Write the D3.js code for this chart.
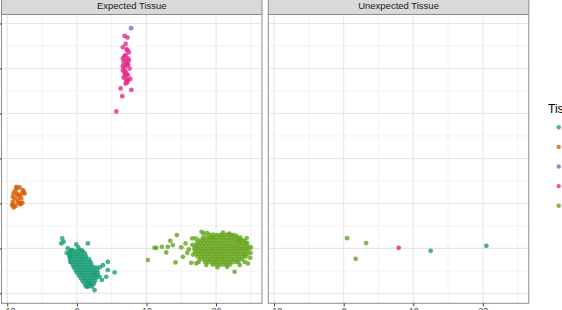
<!DOCTYPE html>
<html><head><meta charset="utf-8">
<script src="https://cdn.jsdelivr.net/npm/d3@7"></script>
<style>html,body{margin:0;padding:0;background:#fff;overflow:hidden}svg{display:block}</style>
</head><body><svg id="c" width="562" height="310"></svg>
<script>
const panels = ["Expected Tissue", "Unexpected Tissue"];
const tissues = ["Blood", "Brain", "Heart", "Liver", "Lung"];
const xTicks = [-10, 0, 10, 20];
const xMinor = [-5, 5, 15, 25];
const yTicks = [-15, -10, -5, 0, 5, 10, 15];
const yMinor = [-12.5, -7.5, -2.5, 2.5, 7.5, 12.5];

// Expected Tissue panel
const expectedBlood = [
  [-2.10,-8.89],[-1.91,-9.27],[-2.24,-9.44],[-0.09,-9.56],[1.58,-9.44],[-1.29,-10.0],[-0.80,-10.19],[0.63,-10.19],
  [-1.05,-10.93],[-0.95,-11.49],[4.45,-11.49],[3.74,-11.86],[5.42,-12.67],[4.45,-12.41],[4.22,-13.16],[3.26,-13.16],
  [1.49,-14.27],[2.54,-14.63],[1.82,-13.89],[-1.45,-10.5],[3.3,-12.1],[3.6,-13.5],[0.2,-9.9],
  [-0.95,-10.3],[-0.5,-10.25],[-0.05,-10.32],[0.4,-10.26],[0.85,-10.3],
  [-1.1,-10.62],[-0.65,-10.57],[-0.2,-10.63],[0.25,-10.58],[0.7,-10.61],[1.15,-10.56],
  [-1.0,-10.9],[-0.55,-10.86],[-0.1,-10.92],[0.35,-10.87],[0.8,-10.91],[1.3,-10.88],
  [-0.95,-11.2],[-0.5,-11.17],[-0.05,-11.22],[0.4,-11.18],[0.85,-11.21],[1.3,-11.17],[1.75,-11.22],
  [-0.8,-11.5],[-0.35,-11.47],[0.1,-11.52],[0.55,-11.48],[1.0,-11.51],[1.45,-11.47],[1.95,-11.52],
  [-0.6,-11.8],[-0.15,-11.78],[0.3,-11.83],[0.75,-11.79],[1.2,-11.82],[1.65,-11.78],[2.1,-11.83],
  [-0.45,-12.1],[0.0,-12.08],[0.45,-12.12],[0.9,-12.09],[1.35,-12.11],[1.8,-12.08],[2.25,-12.12],[2.7,-12.1],
  [-0.2,-12.4],[0.25,-12.38],[0.7,-12.42],[1.15,-12.39],[1.6,-12.41],[2.05,-12.38],[2.45,-12.42],[2.9,-12.4],
  [0.0,-12.7],[0.45,-12.68],[0.9,-12.73],[1.35,-12.69],[1.8,-12.72],[2.25,-12.68],[2.6,-12.72],[3.0,-12.7],
  [0.3,-13.0],[0.75,-12.98],[1.2,-13.02],[1.65,-12.99],[2.1,-13.01],[2.55,-12.98],[2.95,-13.02],
  [0.55,-13.3],[1.0,-13.28],[1.45,-13.32],[1.9,-13.29],[2.35,-13.31],[2.75,-13.28],
  [0.8,-13.6],[1.25,-13.58],[1.7,-13.62],[2.15,-13.59],[2.6,-13.61],
  [1.1,-13.9],[1.55,-13.88],[2.0,-13.92],[2.45,-13.89],
  [1.3,-14.2],[1.8,-14.18],[2.2,-14.22]
];
const expectedBrain = [
  [-8.71,-3.16],[-8.23,-3.22],[-7.76,-3.52],[-7.51,-3.89],[-9.09,-3.89],[-8.48,-4.08],[-8.95,-4.44],[-7.99,-4.44],
  [-9.20,-4.82],[-8.48,-4.63],[-9.28,-5.19],[-8.81,-5.30],[-7.84,-4.93],[-8.13,-5.08],[-8.62,-3.33],[-7.66,-3.71],
  [-9.20,-4.27],[-9.20,-5.19],[-8.08,-5.0],[-9.09,-5.44],[-8.6,-3.9],[-8.2,-4.2],[-8.5,-4.9],[-8.9,-3.6],[-7.9,-3.9]
];
const expectedHeart = [[7.79,14.48]];
const expectedLiver = [
  [6.85,13.62],[7.28,13.44],[7.0,12.73],[6.61,12.37],[7.24,12.03],[7.47,11.78],[7.0,11.48],[7.33,11.11],
  [6.71,10.73],[7.10,10.56],[7.47,10.92],[6.61,10.26],[7.57,10.0],[6.90,9.70],[7.10,9.51],[6.71,9.0],
  [7.67,8.84],[7.33,8.70],[7.24,8.44],[6.28,7.78],[7.82,7.62],[6.52,6.92],[5.66,5.22],
  [7.18,12.11],[6.85,11.37],[6.61,11.11],[7.10,10.92],[7.18,10.37],[6.85,10.18],[6.61,9.81],[7.33,9.26],
  [6.85,9.44],[7.10,8.70],[7.0,8.33],[7.35,10.48],[7.0,9.14]
];
const expectedLung = [
  [10.20,-11.30],[11.16,-9.93],[11.41,-9.93],[12.21,-9.82],[12.84,-10.44],[13.07,-9.82],[13.42,-9.16],[13.79,-9.63],
  [14.18,-11.56],[14.37,-8.52],[15.0,-9.89],[15.23,-10.93],[15.62,-9.44],[15.86,-10.49],[16.09,-10.11],[16.58,-8.89],
  [16.44,-11.6],[17.16,-11.67],[17.92,-8.16],[18.2,-8.33],[19.54,-8.78],[22.66,-12.6],[23.38,-9.16],[24.43,-9.38],
  [24.91,-11.04],[24.57,-11.67],
  [18.7,-8.3],[21.0,-8.25],[21.9,-8.35],[22.9,-8.6],[24.4,-8.85],[25.0,-9.9],[24.95,-10.5],[24.1,-11.5],[23.4,-11.85],
  [21.6,-12.05],[20.2,-12.1],[18.6,-11.85],[17.5,-11.5],[16.7,-10.7],[16.6,-9.6],[17.1,-8.9],
  [19.1,-8.5],[19.6,-8.48],[20.1,-8.52],[20.6,-8.49],[21.1,-8.51],[21.6,-8.48],[22.1,-8.52],[22.5,-8.5],
  [18.15,-8.8],[18.65,-8.78],[19.15,-8.82],[19.65,-8.79],[20.15,-8.81],[20.65,-8.78],[21.15,-8.82],[21.65,-8.79],[22.15,-8.81],[22.65,-8.78],[23.15,-8.82],[23.5,-8.8],
  [17.6,-9.1],[18.1,-9.08],[18.6,-9.12],[19.1,-9.09],[19.6,-9.11],[20.1,-9.08],[20.6,-9.12],[21.1,-9.09],[21.6,-9.11],[22.1,-9.08],[22.6,-9.12],[23.1,-9.09],[23.6,-9.11],[24.0,-9.1],
  [17.25,-9.4],[17.75,-9.38],[18.25,-9.42],[18.75,-9.39],[19.25,-9.41],[19.75,-9.38],[20.25,-9.42],[20.75,-9.39],[21.25,-9.41],[21.75,-9.38],[22.25,-9.42],[22.75,-9.39],[23.25,-9.41],[23.75,-9.38],[24.25,-9.42],
  [17.0,-9.7],[17.5,-9.68],[18.0,-9.72],[18.5,-9.69],[19.0,-9.71],[19.5,-9.68],[20.0,-9.72],[20.5,-9.69],[21.0,-9.71],[21.5,-9.68],[22.0,-9.72],[22.5,-9.69],[23.0,-9.71],[23.5,-9.68],[24.0,-9.72],[24.5,-9.7],
  [16.9,-10.0],[17.35,-9.98],[17.85,-10.02],[18.35,-9.99],[18.85,-10.01],[19.35,-9.98],[19.85,-10.02],[20.35,-9.99],[20.85,-10.01],[21.35,-9.98],[21.85,-10.02],[22.35,-9.99],[22.85,-10.01],[23.35,-9.98],[23.85,-10.02],[24.35,-9.99],[24.7,-10.0],
  [16.95,-10.3],[17.45,-10.28],[17.95,-10.32],[18.45,-10.29],[18.95,-10.31],[19.45,-10.28],[19.95,-10.32],[20.45,-10.29],[20.95,-10.31],[21.45,-10.28],[21.95,-10.32],[22.45,-10.29],[22.95,-10.31],[23.45,-10.28],[23.95,-10.32],[24.45,-10.3],
  [17.1,-10.6],[17.6,-10.58],[18.1,-10.62],[18.6,-10.59],[19.1,-10.61],[19.6,-10.58],[20.1,-10.62],[20.6,-10.59],[21.1,-10.61],[21.6,-10.58],[22.1,-10.62],[22.6,-10.59],[23.1,-10.61],[23.6,-10.58],[24.1,-10.62],[24.5,-10.6],
  [17.35,-10.9],[17.85,-10.88],[18.35,-10.92],[18.85,-10.89],[19.35,-10.91],[19.85,-10.88],[20.35,-10.92],[20.85,-10.89],[21.35,-10.91],[21.85,-10.88],[22.35,-10.92],[22.85,-10.89],[23.35,-10.91],[23.85,-10.88],[24.25,-10.9],
  [17.7,-11.2],[18.2,-11.18],[18.7,-11.22],[19.2,-11.19],[19.7,-11.21],[20.2,-11.18],[20.7,-11.22],[21.2,-11.19],[21.7,-11.21],[22.2,-11.18],[22.7,-11.22],[23.2,-11.19],[23.7,-11.2],
  [18.4,-11.5],[18.9,-11.48],[19.4,-11.52],[19.9,-11.49],[20.4,-11.51],[20.9,-11.48],[21.4,-11.52],[21.9,-11.49],[22.4,-11.51],[22.9,-11.48],[23.2,-11.5],
  [19.5,-11.8],[20.0,-11.78],[20.5,-11.82],[21.0,-11.79],[21.5,-11.81],[22.0,-11.8]
];

// Unexpected Tissue panel
const unexpectedBlood = [[12.50,-10.27],[20.50,-9.71]];
const unexpectedBrain = [];
const unexpectedHeart = [];
const unexpectedLiver = [[7.90,-9.93]];
const unexpectedLung = [[0.49,-8.86],[3.22,-9.41],[1.72,-11.16]];

const tissueColors = ["#1B9E77", "#D95F02", "#7570B3", "#E7298A", "#66A61E"];

const panelData = [
  [expectedBlood, expectedBrain, expectedHeart, expectedLiver, expectedLung],
  [unexpectedBlood, unexpectedBrain, unexpectedHeart, unexpectedLiver, unexpectedLung]
];
const points = [];
panelData.forEach((groups, p) => groups.forEach((arr, t) => arr.forEach(d => points.push({panel: p, tissue: tissues[t], x: d[0], y: d[1]}))));

const color = d3.scaleOrdinal().domain(tissues).range(tissueColors);

const svg = d3.select("#c");
const panelW = 260.5, panelTop = 14.5, panelBottom = 303.3;
const panelLeft = [1.5, 268.3];
const x = d3.scaleLinear().domain([-10.83, 26.6]).range([0, panelW]);
const y = d3.scaleLinear().domain([-16.1, 16.0]).range([panelBottom, panelTop]);
const font = "'Liberation Sans', Arial, sans-serif";

panels.forEach((name, p) => {
  const g = svg.append("g").attr("transform", `translate(${panelLeft[p]},0)`);
  g.append("rect").attr("x", 0).attr("y", panelTop).attr("width", panelW).attr("height", panelBottom - panelTop).attr("fill", "#fff");
  g.selectAll(".vmin").data(xMinor).join("line").attr("x1", d => x(d)).attr("x2", d => x(d)).attr("y1", panelTop).attr("y2", panelBottom).attr("stroke", "#EBEBEB").attr("stroke-width", 0.6);
  g.selectAll(".hmin").data(yMinor).join("line").attr("x1", 0).attr("x2", panelW).attr("y1", d => y(d)).attr("y2", d => y(d)).attr("stroke", "#EBEBEB").attr("stroke-width", 0.6);
  g.selectAll(".vmaj").data(xTicks).join("line").attr("x1", d => x(d)).attr("x2", d => x(d)).attr("y1", panelTop).attr("y2", panelBottom).attr("stroke", "#E6E6E6").attr("stroke-width", 1.1);
  g.selectAll(".hmaj").data(yTicks).join("line").attr("x1", 0).attr("x2", panelW).attr("y1", d => y(d)).attr("y2", d => y(d)).attr("stroke", "#E6E6E6").attr("stroke-width", 1.1);
  g.selectAll("circle.pt").data(points.filter(d => d.panel === p)).join("circle")
    .attr("class", "pt").attr("cx", d => x(d.x)).attr("cy", d => y(d.y)).attr("r", 2.4)
    .attr("fill", d => color(d.tissue)).attr("fill-opacity", 0.8);
  g.append("rect").attr("x", 0).attr("y", panelTop).attr("width", panelW).attr("height", panelBottom - panelTop)
    .attr("fill", "none").attr("stroke", "#8c8c8c").attr("stroke-width", 1);
  g.append("rect").attr("x", 0).attr("y", -6).attr("width", panelW).attr("height", panelTop + 6)
    .attr("fill", "#D9D9D9").attr("stroke", "#8c8c8c").attr("stroke-width", 1);
  g.append("text").attr("x", panelW / 2).attr("y", 9.2).attr("text-anchor", "middle")
    .attr("font-family", font).attr("font-size", 9.5).attr("fill", "#1A1A1A").text(name);
  const ax = g.append("g").attr("transform", `translate(0,${panelBottom})`)
    .call(d3.axisBottom(x).tickValues(xTicks).tickSize(3).tickPadding(1.5).tickFormat(d3.format("d")));
  ax.select(".domain").remove();
  ax.selectAll(".tick line").attr("stroke", "#333").attr("stroke-width", 1);
  ax.selectAll(".tick text").attr("font-family", font).attr("font-size", 9).attr("fill", "#4D4D4D");
});

const ay = svg.append("g").attr("transform", `translate(${panelLeft[0]},0)`)
  .call(d3.axisLeft(y).tickValues(yTicks).tickSize(3).tickFormat(""));
ay.select(".domain").remove();
ay.selectAll(".tick line").attr("stroke", "#333").attr("stroke-width", 1);

const leg = svg.append("g");
leg.append("text").attr("x", 548).attr("y", 112.7).attr("font-family", font).attr("font-size", 12).attr("fill", "#000").text("Tissue");
leg.selectAll("circle").data(tissues).join("circle")
  .attr("cx", 558.7).attr("cy", (d, i) => 127.3 + i * 19.6).attr("r", 2.2)
  .attr("fill", d => color(d)).attr("fill-opacity", 0.8);
leg.selectAll("text.lab").data(tissues).join("text").attr("class", "lab")
  .attr("x", 568).attr("y", (d, i) => 127.3 + i * 19.6).attr("dy", "0.35em")
  .attr("font-family", font).attr("font-size", 9.5).attr("fill", "#000").text(d => d);
</script></body></html>
